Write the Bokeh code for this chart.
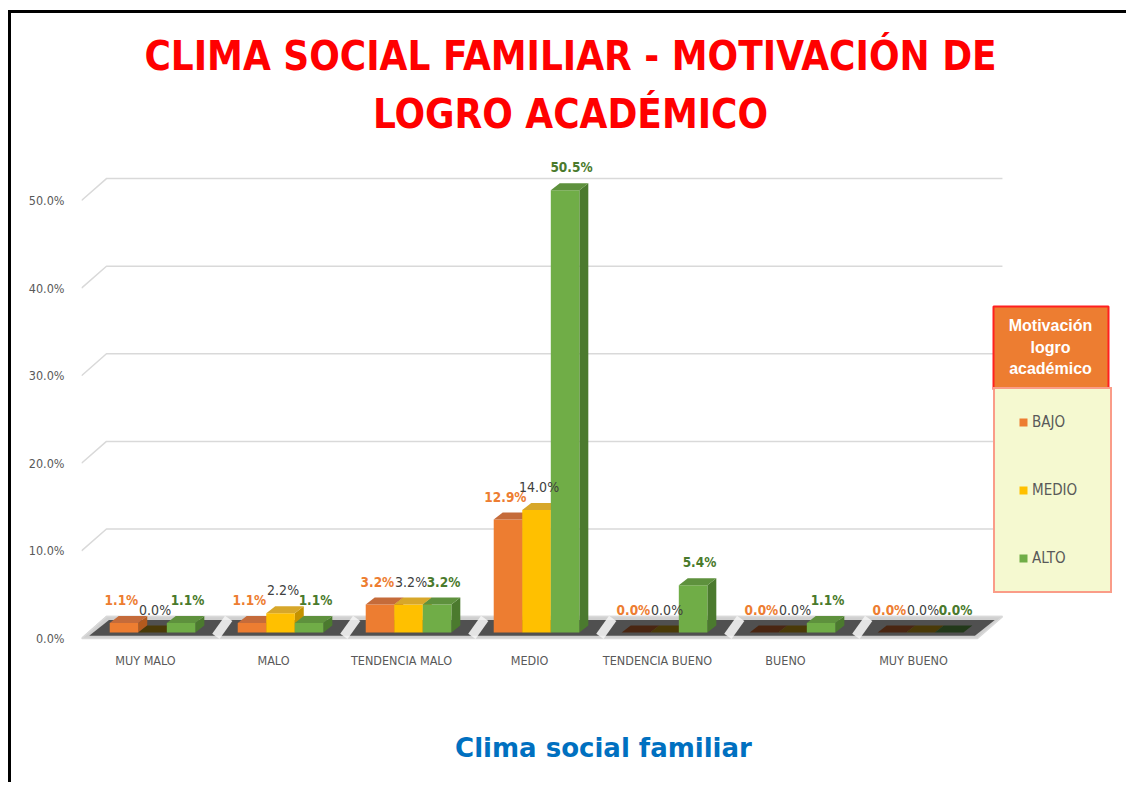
from bokeh.plotting import figure
from bokeh.models import (FixedTicker, PrintfTickFormatter, Legend, LegendItem,
                          BoxAnnotation, Label, ColumnDataSource, Range1d)
from bokeh.core.properties import value
from bokeh.embed import file_html
from bokeh.resources import INLINE

# ---------------- data ----------------
categories = ["MUY MALO", "MALO", "TENDENCIA MALO", "MEDIO",
              "TENDENCIA BUENO", "BUENO", "MUY BUENO"]
series_names = ["BAJO", "MEDIO", "ALTO"]
bajo = [1.1, 1.1, 3.2, 12.9, 0.0, 0.0, 0.0]
medio = [0.0, 2.2, 3.2, 14.0, 0.0, 0.0, 0.0]
alto = [1.1, 1.1, 3.2, 50.5, 5.4, 1.1, 0.0]
y_ticks = [0, 10, 20, 30, 40, 50]

title_lines = ["CLIMA SOCIAL FAMILIAR - MOTIVACIÓN DE", "LOGRO ACADÉMICO"]
legend_title = ["Motivación", "logro", "académico"]
x_title = "Clima social familiar"

# ---------------- style ----------------
NARROW = "DejaVu Sans Condensed"
front_cols = ["#ED7D31", "#FFC000", "#70AD47"]
top_cols = ["#C56B3A", "#D7A72A", "#5E913D"]
side_cols = ["#B35A1E", "#C49200", "#4B7A2E"]
zero_cols = ["#4A2612", "#4A3A08", "#22391A"]
lab_cols = ["#ED7D31", "#404040", "#4A7A2C"]
lab_style = ["bold", "normal", "bold"]
lab_size = ["13.5px", "14px", "13.5px"]
lab_dx = [-0.02, 0.02, 0.05]

PXX = 128.0   # px per category
PXY = 8.76    # px per percent
FL, FT, FB = 81, 13, 645   # frame left/top/bottom (page px)
Y0 = 638                   # page y of 0 %


def fx(px):
    return (px - FL) / PXX


def fy(py):
    return (Y0 - py) / PXY


n = len(categories)
BAR_W = 0.223
SHIFT = 0.055
BASE = 0.68
DX, DY = 0.07, 0.8          # bar depth
FDX, FDY = 0.195, 2.5       # wall depth

p = figure(width=1118, height=772, output_backend="svg", toolbar_location=None,
           x_range=Range1d(0, fx(1125)), y_range=Range1d(fy(FB), fy(FT)),
           min_border_left=70, min_border_right=4, min_border_top=0,
           min_border_bottom=772 - (FB - FT))
p.styles = {"border-left": "3px solid #000", "border-top": "3px solid #000",
            "margin-left": "8px", "margin-top": "10px"}
p.outline_line_color = None
p.xgrid.visible = False
p.ygrid.visible = False
p.background_fill_color = "white"
p.border_fill_color = "white"

# gridlines on back wall
gx, gy = [], []
for t in y_ticks:
    gx.append([0, FDX, n + FDX])
    gy.append([t, t + FDY, t + FDY])
p.multi_line(gx, gy, line_color="#d9d9d9", line_width=1.5)

# floor
p.patch([0, n, n + FDX, FDX], [0, 0, FDY, FDY], fill_color="#cfcfcf",
        line_color="#d9d9d9", line_width=1.5)
p.patch([0.06, n - 0.02, n + FDX - 0.06, FDX + 0.02], [0.3, 0.3, FDY - 0.4, FDY - 0.4],
        fill_color="#3a3a3a", fill_alpha=0.85, line_color=None)
sx, sy = [], []
for i in range(1, n):
    sx.append([i + 0.05, i + 0.15])
    sy.append([0.25, FDY - 0.2])
p.multi_line(sx, sy, line_color="#f4f4f4", line_width=9, line_alpha=0.9)

series = [bajo, medio, alto]
renderers = []
label_sources = []
for s, vals in enumerate(series):
    xs = [i + 0.5 + SHIFT + (s - 1) * BAR_W for i in range(n)]
    tops = [v + BASE for v in vals]
    side_x, side_y, top_x, top_y, top_c = [], [], [], [], []
    for x, t, v in zip(xs, tops, vals):
        xr = x + BAR_W / 2
        xl = x - BAR_W / 2
        if v > 0:
            side_x.append([xr, xr + DX, xr + DX, xr])
            side_y.append([BASE, BASE + DY, t + DY, t])
        top_x.append([xl, xr, xr + DX, xl + DX])
        top_y.append([t, t, t + DY, t + DY])
        top_c.append(top_cols[s] if v > 0 else zero_cols[s])
    if side_x:
        p.patches(side_x, side_y, fill_color=side_cols[s], line_color=None)
    r = p.vbar(x=xs, top=tops, bottom=BASE, width=BAR_W,
               fill_color=front_cols[s], line_color=None)
    renderers.append(r)
    p.patches(top_x, top_y, fill_color=top_c, line_color=None)
    label_sources.append(ColumnDataSource(dict(
        x=[x + lab_dx[s] for x in xs],
        y=[t + 2.6 for t in tops],
        t=[f"{v:.1f}%" for v in vals])))

# data labels drawn on top of all bars
for s, src in enumerate(label_sources):
    p.text(x="x", y="y", text="t", source=src, text_align="center",
           text_baseline="middle", text_color=lab_cols[s],
           text_font=value(NARROW), text_font_size=lab_size[s],
           text_font_style=lab_style[s])

# axes
p.xaxis.ticker = FixedTicker(ticks=[i + 0.5 for i in range(n)])
p.xaxis.major_label_overrides = {i + 0.5: c for i, c in enumerate(categories)}
p.yaxis.ticker = FixedTicker(ticks=y_ticks)
p.yaxis.formatter = PrintfTickFormatter(format="%.1f%%")
for ax in (p.xaxis[0], p.yaxis[0]):
    ax.axis_line_color = None
    ax.major_tick_line_color = None
    ax.minor_tick_line_color = None
    ax.major_label_text_font = NARROW
    ax.major_label_text_font_size = "12.5px"
    ax.major_label_text_color = "#595959"
p.yaxis.major_label_standoff = 11
p.xaxis.major_label_standoff = 1
p.xaxis.axis_label = x_title
p.xaxis.axis_label_text_font = "DejaVu Sans"
p.xaxis.axis_label_text_font_style = "bold"
p.xaxis.axis_label_text_font_size = "26px"
p.xaxis.axis_label_text_color = "#0070C0"
p.xaxis.axis_label_standoff = 62

# title
for line, py in zip(title_lines, [55, 113]):
    p.add_layout(Label(x=fx(570), y=fy(py), text=line, text_align="center",
                       text_baseline="middle", text_font=NARROW,
                       text_font_style="bold", text_font_size="40px",
                       text_color="#FF0000"))

# legend header
p.add_layout(BoxAnnotation(left=fx(993), right=fx(1108), top=fy(306), bottom=fy(389),
                           fill_color="#ED7D31", fill_alpha=1,
                           line_color="#FF2020", line_width=2, line_alpha=1))
for line, py in zip(legend_title, [325, 347, 368]):
    p.add_layout(Label(x=fx(1050), y=fy(py), text=line, text_align="center",
                       text_baseline="middle", text_font="Liberation Sans",
                       text_font_style="bold", text_font_size="16px",
                       text_color="white"))

legend = Legend(items=[LegendItem(label=nm, renderers=[r])
                       for nm, r in zip(series_names, renderers)],
                location=(993 - FL, FB - 593), margin=0, padding=23,
                spacing=48, glyph_width=10, glyph_height=10, label_height=20,
                label_width=55, label_standoff=4,
                label_text_font=NARROW, label_text_font_size="15px",
                label_text_color="#595959",
                background_fill_color="#F5F9D0", background_fill_alpha=1,
                border_line_color="#FF4040", border_line_width=2)
p.add_layout(legend)

open("out.html", "w").write(file_html(p, INLINE))
